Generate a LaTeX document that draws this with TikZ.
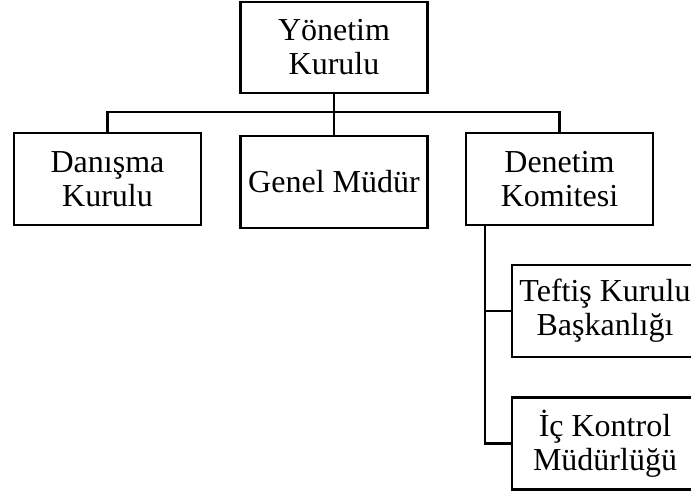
\documentclass[tikz,border=0pt]{standalone}
\usepackage{fontspec}
\setmainfont{Liberation Serif}
\usepackage{tikz}
\usetikzlibrary{positioning}
\tikzset{
  unitbox/.style={draw, line width=1.4pt, inner sep=0pt, align=center,
    minimum width=93.5pt, minimum height=46pt,
    font=\fontsize{16}{17}\selectfont},
  link/.style={line width=1.4pt}
}

\begin{document}
\begin{tikzpicture}[x=0.5pt, y=-0.5pt]
    \clip (0,0) rectangle (691,495);

    \node[unitbox, minimum height=45.5pt]	(YK)	at	(334,47.5)	{Yönetim\\Kurulu};
    \node[unitbox]	(DK)	at	(107.5,179)	{Danışma\\Kurulu};
    \node[unitbox]	(GM)	at	(334,182)	{Genel Müdür};
    \node[unitbox]	(DeK)	at	(559.5,179)	{Denetim\\Komitesi};
    \node[unitbox, minimum width=93pt]	(TKB)	at	(605,311)	{Teftiş Kurulu\\Başkanlığı};
    \node[unitbox, minimum width=93pt]	(IKM)	at	(605,443.5)	{İç Kontrol\\Müdürlüğü};

    \coordinate (bus)	at	(334,112);
    \coordinate (trunk)	at	(485,226);

    \draw[link] (YK) -- (GM);
    \draw[link] (DK.north) |- (bus) -| (DeK.north);

    \draw[link] (trunk) |- (TKB.west);
    \draw[link] (trunk) |- (IKM.west);
\end{tikzpicture}
\end{document}
